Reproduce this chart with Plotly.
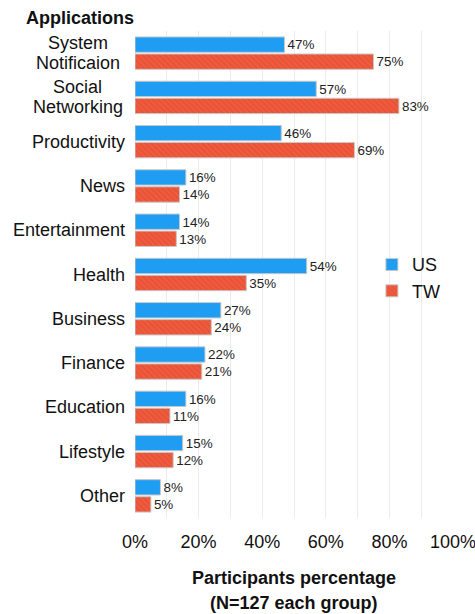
import plotly.graph_objects as go

categories = ["System<br>Notificaion", "Social<br>Networking", "Productivity", "News",
              "Entertainment", "Health", "Business", "Finance", "Education",
              "Lifestyle", "Other"]
us_values = [47, 57, 46, 16, 14, 54, 27, 22, 16, 15, 8]
tw_values = [75, 83, 69, 14, 13, 35, 24, 21, 11, 12, 5]
x_ticks = [0, 20, 40, 60, 80, 100]
x_tick_labels = ["0%", "20%", "40%", "60%", "80%", "100%"]

FONT = "Liberation Sans, Arial, Helvetica, sans-serif"

fig = go.Figure()
fig.add_trace(go.Bar(
    y=categories, x=us_values, orientation="h", name="US",
    marker=dict(color="#1E9DF2", line=dict(color="#C8C8C8", width=1)),
    text=[f"{v}%" for v in us_values], textposition="outside",
    textfont=dict(size=14, color="#222222", family=FONT), cliponaxis=False,
))
fig.add_trace(go.Bar(
    y=categories, x=tw_values, orientation="h", name="TW",
    marker=dict(color="#F05B3E", line=dict(color="#C8C8C8", width=1),
                pattern=dict(shape="\\", fgcolor="#D2442A", bgcolor="#F05B3E",
                             size=4, solidity=0.3)),
    text=[f"{v}%" for v in tw_values], textposition="outside",
    textfont=dict(size=14, color="#222222", family=FONT), cliponaxis=False,
))

# category labels (centered multi-line, right edge at the axis)
for c in categories:
    lines = c.split("<br>")
    n = len(lines)
    for i, ln in enumerate(lines):
        shift = (n - 1) / 2 * 20 - i * 20
        if n > 1:
            fig.add_annotation(x=0, xref="paper", y=c, yref="y", text=ln, showarrow=False,
                               xanchor="center", align="center", yshift=shift,
                               xshift=-(11 + 93 / 2),
                               font=dict(size=18, color="#111111", family=FONT))
        else:
            fig.add_annotation(x=0, xref="paper", y=c, yref="y", text=ln, showarrow=False,
                               xanchor="right", align="right", xshift=-8,
                               font=dict(size=18, color="#111111", family=FONT))

fig.add_annotation(x=-0.35, xref="paper", y=1.0, yref="paper", text="<b>Applications</b>",
                   showarrow=False, xanchor="left", yanchor="bottom", yshift=1,
                   font=dict(size=18, color="#111111", family=FONT))

fig.add_annotation(x=0.5, xref="paper", y=0, yref="paper",
                   text="<b>Participants percentage</b>", showarrow=False,
                   xanchor="center", yanchor="middle", yshift=-60,
                   font=dict(size=18, color="#111111", family=FONT))
fig.add_annotation(x=0.5, xref="paper", y=0, yref="paper",
                   text="<b>(N=127 each group)</b>", showarrow=False,
                   xanchor="center", yanchor="middle", yshift=-85,
                   font=dict(size=18, color="#111111", family=FONT))

fig.update_layout(
    width=475, height=614,
    margin=dict(l=135, r=22, t=31, b=96),
    barmode="group", bargap=0.23, bargroupgap=0.1,
    plot_bgcolor="white", paper_bgcolor="white",
    font=dict(family=FONT, color="#111111"),
    legend=dict(x=0.745, y=0.558, xanchor="left", yanchor="top",
                font=dict(size=18, family=FONT), bgcolor="rgba(0,0,0,0)",
                itemwidth=30, tracegroupgap=0),
    xaxis=dict(range=[0, 100], tickvals=x_ticks, ticktext=x_tick_labels,
               showgrid=False, zeroline=False, ticks="", automargin=False,
               ticklabelstandoff=11, ticklabeloverflow="allow",
               tickfont=dict(size=18, color="#111111"),
               minor=dict(dtick=10, showgrid=True, gridcolor="#EBEBEB", gridwidth=1)),
    yaxis=dict(autorange="reversed", showticklabels=False, showgrid=False,
               zeroline=False, ticks="", automargin=False),
)

fig.write_html("out.html")
